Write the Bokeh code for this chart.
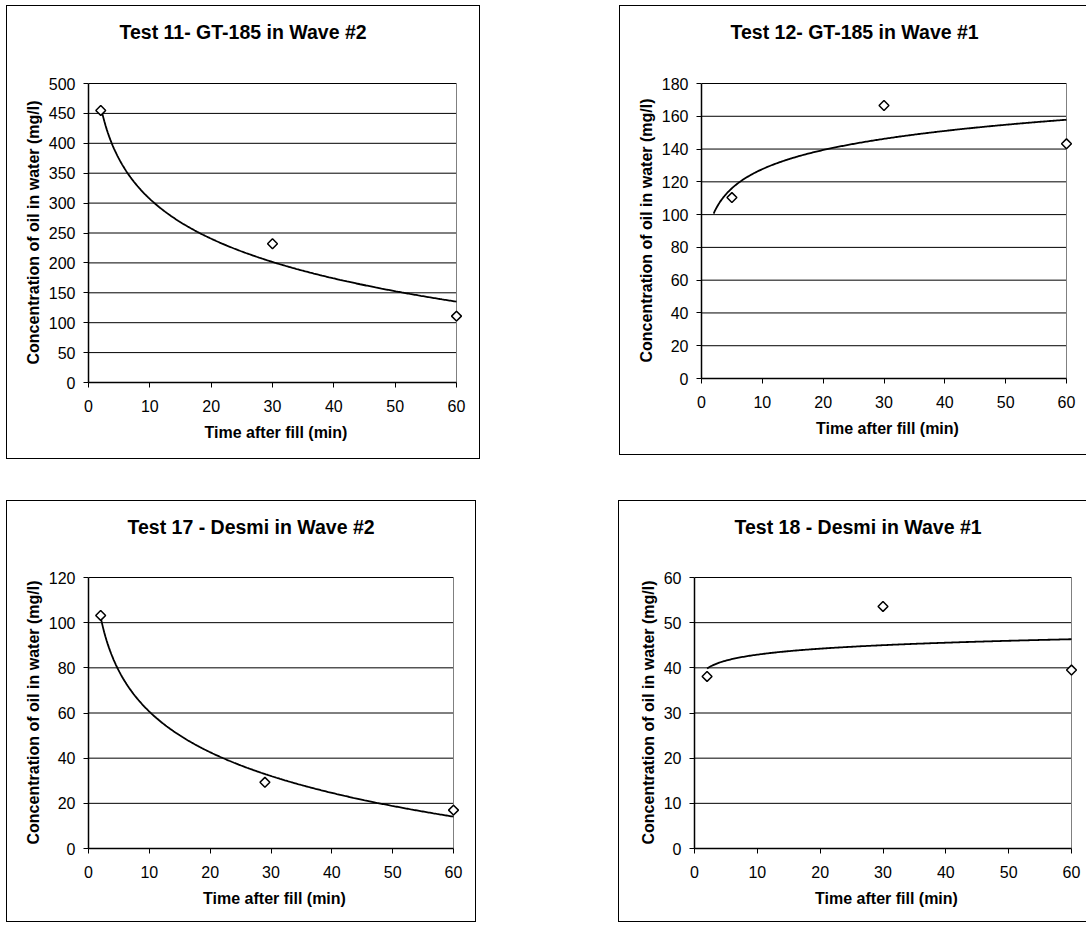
import numpy as np
from bokeh.plotting import figure
from bokeh.layouts import column, row
from bokeh.models import Spacer, Range1d, FixedTicker, Title
from bokeh.embed import file_html
from bokeh.resources import INLINE

FONT = "Liberation Sans"

# ---- data ----
x_ticks = [0, 10, 20, 30, 40, 50, 60]
x_label = "Time after fill (min)"
y_label = "Concentration of oil in water (mg/l)"

titles = ["Test 11- GT-185 in Wave #2", "Test 12- GT-185 in Wave #1",
          "Test 17 - Desmi in Wave #2", "Test 18 - Desmi in Wave #1"]

t11_time = [2, 30, 60]
t11_conc = [455, 232, 111]
t12_time = [5, 30, 60]
t12_conc = [110.4, 166.6, 143.2]
t17_time = [2, 29, 60]
t17_conc = [103.2, 29.3, 17.0]
t18_time = [2, 30, 60]
t18_conc = [38.1, 53.6, 39.5]

y_max = [500, 180, 120, 60]
y_step = [50, 20, 20, 10]
trend_from = 2
trend_to = 60
x_end = 60

PAD = 7  # px of room right of x=60 so end markers are not cut


def panel(title, xs, ys, ymax, ystep, w, h, bl, br, bt, bb, t_left, t_pad, css):
    frame_w = w - bl - br          # px spanned by 0..60
    frame_h = h - bt - bb
    xr_end = x_end * (1 + PAD / frame_w)
    yr_end = ymax * (1 + 1.0 / frame_h)
    p = figure(width=w, height=h, output_backend="svg", toolbar_location=None,
               x_range=Range1d(0, xr_end), y_range=Range1d(0, yr_end),
               min_border_left=bl, min_border_right=br - PAD,
               min_border_top=bt - 1, min_border_bottom=bb,
               background_fill_color="white", border_fill_color="white",
               styles=css)
    p.outline_line_color = None
    p.xgrid.visible = False
    p.ygrid.visible = False
    yt = list(range(0, ymax + 1, ystep))
    p.segment(x0=[0] * len(yt), x1=[x_end] * len(yt), y0=yt, y1=yt,
              line_color="black", line_width=1, level="underlay")
    p.segment(x0=[x_end], x1=[x_end], y0=[0], y1=[ymax],
              line_color="#808080", line_width=1, level="underlay")

    p.xaxis.ticker = FixedTicker(ticks=x_ticks)
    p.yaxis.ticker = FixedTicker(ticks=yt)
    p.xaxis.bounds = (0, x_end)
    p.yaxis.bounds = (0, ymax)
    for ax in (p.xaxis[0], p.yaxis[0]):
        ax.axis_line_color = "black"
        ax.axis_line_width = 1.5
        ax.major_tick_line_color = "black"
        ax.major_tick_line_width = 1
        ax.major_tick_in = 0
        ax.major_tick_out = 5
        ax.minor_tick_line_color = None
        ax.major_label_text_font = FONT
        ax.major_label_text_font_size = "16px"
        ax.major_label_text_color = "black"
        ax.axis_label_text_font = FONT
        ax.axis_label_text_font_size = "16px"
        ax.axis_label_text_font_style = "bold"
        ax.axis_label_text_color = "black"
    p.xaxis.axis_label = x_label
    p.yaxis.axis_label = y_label
    p.xaxis.major_label_standoff = 12
    p.xaxis.axis_label_standoff = 9
    p.yaxis.major_label_standoff = 8
    p.yaxis.axis_label_standoff = 4

    # padding order: (left, right, top, bottom)
    p.add_layout(Title(text=title, text_font=FONT, text_font_size="19.5px",
                       text_font_style="bold", text_color="black",
                       align="left", vertical_align="top", standoff=0,
                       offset=t_left, padding=(0, 0, 0, t_pad)), "above")

    a, b = np.polyfit(np.log(xs), ys, 1)
    tx = np.linspace(trend_from, trend_to, 300)
    p.line(tx, a * np.log(tx) + b, line_color="black", line_width=1.8)
    p.scatter(xs, ys, marker="square", angle=np.pi / 4, size=7,
              fill_color="white", line_color="black", line_width=1.5)
    return p


full = {"border": "1px solid black"}
cut = {"border-top": "1px solid black", "border-left": "1px solid black",
       "border-bottom": "1px solid black"}

p1 = panel(titles[0], t11_time, t11_conc, y_max[0], y_step[0], 474, 454, 81, 25, 77, 78, 31, 38, full)
p2 = panel(titles[1], t12_time, t12_conc, y_max[1], y_step[1], 467, 450, 81, 21, 77, 78, 29, 38, cut)
p3 = panel(titles[2], t17_time, t17_conc, y_max[2], y_step[2], 470, 422, 81, 24, 76, 75, 39, 37, full)
p4 = panel(titles[3], t18_time, t18_conc, y_max[3], y_step[3], 468, 422, 75, 16, 76, 75, 40, 37, cut)

top = row(p1, Spacer(width=139), p2)
bot = row(p3, Spacer(width=142), p4)
lay = column(top, Spacer(height=41), bot, margin=(5, 0, 0, 6))

open("out.html", "w").write(file_html(lay, INLINE))
